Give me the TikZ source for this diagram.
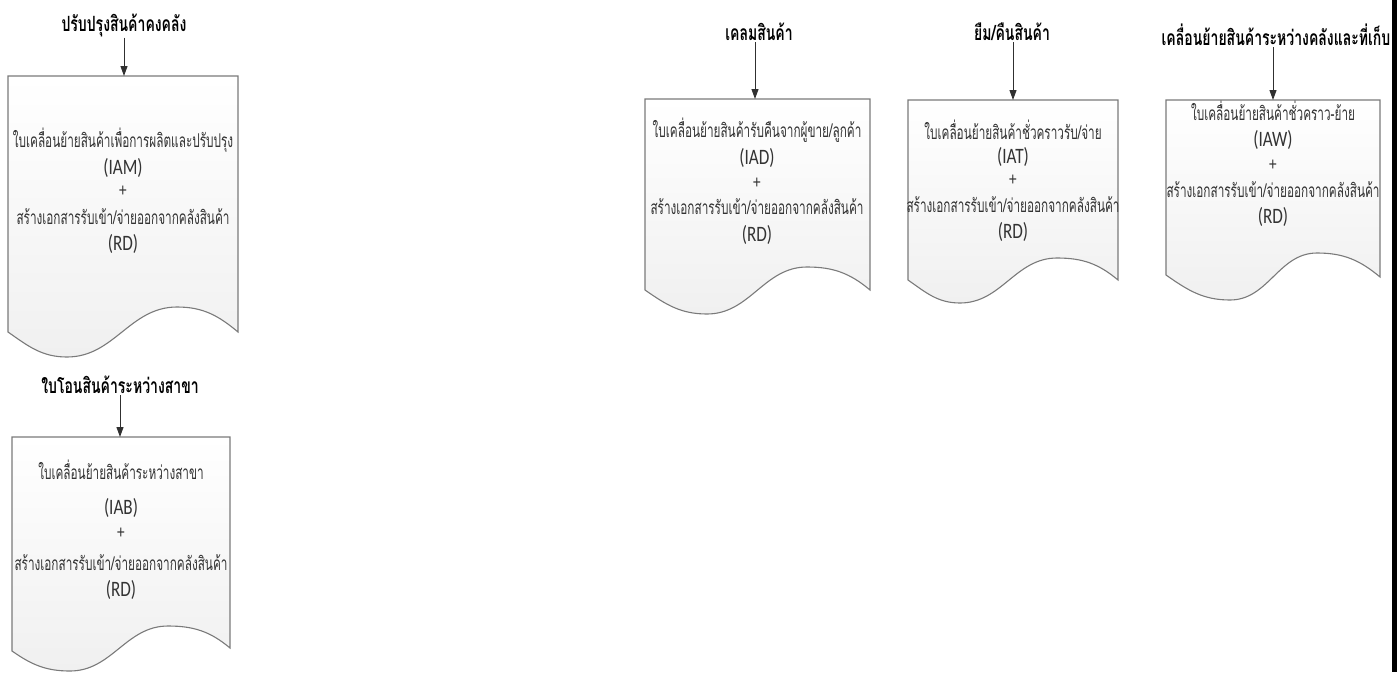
\documentclass[tikz,border=0pt]{standalone}
\usepackage{fontspec}
\usepackage{graphicx}
\setmainfont{Carlito}
\newfontfamily\thai[Script=Thai]{Loma}
\usetikzlibrary{arrows.meta}
\definecolor{boxline}{HTML}{7A7A7A}
\definecolor{boxfill}{HTML}{F0F0F0}
\definecolor{bodytext}{HTML}{333333}
\definecolor{arrowcol}{HTML}{303030}
\newsavebox\tmpbox
\newdimen\tmpw
\AtBeginDocument{%
  \sbox\tmpbox{\thai\fontsize{19}{22}\selectfont สร้างเอกสารรับเข้า/จ่ายออกจากคลังสินค้า}%
  \tmpw=\wd\tmpbox
  \pgfmathsetmacro\bodyfx{213/\tmpw}%
  \sbox\tmpbox{\thai\bfseries\fontsize{21}{24}\selectfont ปรับปรุงสินค้าคงคลัง}%
  \tmpw=\wd\tmpbox
  \pgfmathsetmacro\titlefx{125/\tmpw}%
}
\newcommand\thb[1]{\scalebox{\bodyfx}[1]{\thai\fontsize{19}{22}\selectfont #1}}
\newcommand\tht[1]{\scalebox{\titlefx}[1]{\thai\bfseries\fontsize{21}{24}\selectfont #1}}
\newcommand\lat[1]{\scalebox{0.78}[1]{\fontsize{22}{26}\selectfont #1}}
\newcommand\pls[1]{\scalebox{0.8}[1]{\fontsize{19}{22}\selectfont #1}}
\newcommand\docpath[9]{% L T R Rb cx cy tx ty Lb
  \path[docbox] (#1,#2) -- (#3,#2) -- (#3,#4)
    to[out=140,in=0] (#5,#6)
    to[out=180,in=0] (#7,#8)
    to[out=180,in=-35] (#1,#9) -- cycle;}
\begin{document}
\begin{tikzpicture}[x=1pt,y=-1pt,
  docbox/.style={draw=boxline,line width=1.1pt,top color=white,bottom color=boxfill},
  body/.style={text=bodytext,inner sep=0pt},
  latin/.style={text=bodytext,inner sep=0pt},
  plus/.style={text=bodytext,inner sep=0pt},
  ttl/.style={text=black,inner sep=1pt},
  arr/.style={draw=arrowcol,line width=1pt,-{Triangle[length=10pt,width=7pt]}}]
\useasboundingbox (0,0) rectangle (1397,672);
% right edge bar
\fill[black] (1392,0) rectangle (1397,672);
% documents
\docpath{8}{76}{238}{332}{177}{307}{67}{357}{332}
\docpath{12}{437}{230}{648}{168}{626}{70}{671}{651}
\docpath{645}{99}{870}{290}{807}{267}{707}{314}{290}
\docpath{908}{100}{1118}{280}{1057}{258}{960}{303}{280}
\docpath{1166}{100}{1380}{277}{1317}{253}{1230}{300}{275}
% arrow targets
\coordinate (a1) at (124,76);
\coordinate (a2) at (120,437);
\coordinate (a3) at (755,99);
\coordinate (a4) at (1013,100);
\coordinate (a5) at (1273,100);
% titles
\node[ttl] (t1) at (124,25) {\tht{ปรับปรุงสินค้าคงคลัง}};
\node[ttl] (t2) at (120,385) {\tht{ใบโอนสินค้าระหว่างสาขา}};
\node[ttl] (t3) at (759,32) {\tht{เคลมสินค้า}};
\node[ttl] (t4) at (1012,32) {\tht{ยืม/คืนสินค้า}};
\node[ttl] (t5) at (1276,35) {\tht{เคลื่อนย้ายสินค้าระหว่างคลังและที่เก็บ}};
% arrows
\draw[arr] (t1.south -| a1) -- (a1);
\draw[arr] (t2.south -| a2) -- (a2);
\draw[arr] (t3.south -| a3) -- (a3);
\draw[arr] (t4.south -| a4) -- (a4);
\draw[arr] (t5.south -| a5) -- (a5);
% document 1
\node[body] (d1a) at (123,140) {\thb{ใบเคลื่อนย้ายสินค้าเพื่อการผลิตและปรับปรุง}};
\node[latin] (d1b) at (123,168) {\lat{(IAM)}};
\node[plus] (d1c) at (123,191) {\pls{+}};
\node[body] (d1d) at (123,217) {\thb{สร้างเอกสารรับเข้า/จ่ายออกจากคลังสินค้า}};
\node[latin] (d1e) at (123,244) {\lat{(RD)}};
% document 2
\node[body] (d2a) at (121,470) {\thb{ใบเคลื่อนย้ายสินค้าระหว่างสาขา}};
\node[latin] (d2b) at (121,508) {\lat{(IAB)}};
\node[plus] (d2c) at (121,533) {\pls{+}};
\node[body] (d2d) at (121,563) {\thb{สร้างเอกสารรับเข้า/จ่ายออกจากคลังสินค้า}};
\node[latin] (d2e) at (121,590) {\lat{(RD)}};
% document 3
\node[body] (d3a) at (757,130) {\thb{ใบเคลื่อนย้ายสินค้ารับคืนจากผู้ขาย/ลูกค้า}};
\node[latin] (d3b) at (757,158) {\lat{(IAD)}};
\node[plus] (d3c) at (757,183) {\pls{+}};
\node[body] (d3d) at (757,207) {\thb{สร้างเอกสารรับเข้า/จ่ายออกจากคลังสินค้า}};
\node[latin] (d3e) at (757,235) {\lat{(RD)}};
% document 4
\node[body] (d4a) at (1013,130) {\thb{ใบเคลื่อนย้ายสินค้าชั่วคราวรับ/จ่าย}};
\node[latin] (d4b) at (1013,157) {\lat{(IAT)}};
\node[plus] (d4c) at (1013,180) {\pls{+}};
\node[body] (d4d) at (1013,205) {\thb{สร้างเอกสารรับเข้า/จ่ายออกจากคลังสินค้า}};
\node[latin] (d4e) at (1013,232) {\lat{(RD)}};
% document 5
\node[body] (d5a) at (1273,111) {\thb{ใบเคลื่อนย้ายสินค้าชั่วคราว-ย้าย}};
\node[latin] (d5b) at (1273,140) {\lat{(IAW)}};
\node[plus] (d5c) at (1273,165) {\pls{+}};
\node[body] (d5d) at (1273,190) {\thb{สร้างเอกสารรับเข้า/จ่ายออกจากคลังสินค้า}};
\node[latin] (d5e) at (1273,217) {\lat{(RD)}};
\end{tikzpicture}
\end{document}
